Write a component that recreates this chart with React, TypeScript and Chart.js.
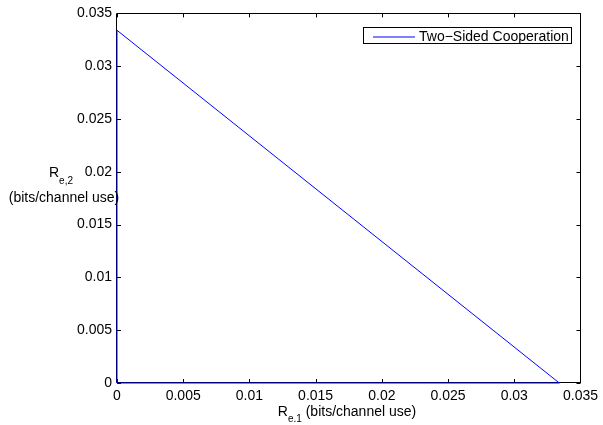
import React, { useEffect, useRef } from "react";
import { Chart, registerables } from "chart.js";

Chart.register(...registerables);

const seriesLabel = "Two\u2212Sided Cooperation";
const r1Values = [0, 0, 0.0334, 0];
const r2Values = [0, 0.0334, 0, 0];
const xTickLabels = ["0", "0.005", "0.01", "0.015", "0.02", "0.025", "0.03", "0.035"];
const yTickLabels = ["0", "0.005", "0.01", "0.015", "0.02", "0.025", "0.03", "0.035"];

const FONT = "Liberation Sans, Arial, Helvetica, sans-serif";
const LINE_COLOR = "#0000ff";

const framePlugin = {
  id: "matlabFrame",
  beforeDatasetsDraw(chart: any) {
    const { ctx, chartArea } = chart;
    const { left, right, top, bottom } = chartArea;
    ctx.save();
    ctx.strokeStyle = "#000";
    ctx.lineWidth = 1;
    ctx.beginPath();
    ctx.rect(Math.round(left) - 0.5, Math.round(top) + 0.5, Math.round(right - left) + 1, Math.round(bottom - top) - 1);
    ctx.stroke();
    const tl = 4;
    const xs = chart.scales.x;
    const ys = chart.scales.y;
    ctx.beginPath();
    xs.ticks.forEach((t: any, i: number) => {
      const px = Math.round(xs.getPixelForTick(i)) + 0.5;
      ctx.moveTo(px, bottom);
      ctx.lineTo(px, bottom - tl);
      ctx.moveTo(px, top);
      ctx.lineTo(px, top + tl);
    });
    ys.ticks.forEach((t: any, i: number) => {
      const py = Math.round(ys.getPixelForTick(i)) + 0.5;
      ctx.moveTo(left, py);
      ctx.lineTo(left + tl, py);
      ctx.moveTo(right, py);
      ctx.lineTo(right - tl, py);
    });
    ctx.stroke();
    ctx.restore();
  },
  afterDraw(chart: any) {
    const { ctx } = chart;
    ctx.save();
    ctx.fillStyle = "#000";
    ctx.textBaseline = "alphabetic";
    ctx.textAlign = "left";
    const big = `14px ${FONT}`;
    const small = `10px ${FONT}`;

    // Y title
    ctx.font = big;
    ctx.fillText("R", 49, 177);
    const rw = ctx.measureText("R").width;
    ctx.font = small;
    ctx.fillText("e,2", 49 + rw, 184);
    ctx.font = big;
    ctx.textAlign = "center";
    ctx.fillText("(bits/channel use)", 64, 202);

    // X title
    ctx.textAlign = "left";
    ctx.font = big;
    const wR = ctx.measureText("R").width;
    ctx.font = small;
    const wSub = ctx.measureText("e.1").width;
    ctx.font = big;
    const wRest = ctx.measureText(" (bits/channel use)").width;
    const total = wR + wSub + wRest;
    const x0 = 347 - total / 2;
    ctx.fillText("R", x0, 416);
    ctx.font = small;
    ctx.fillText("e.1", x0 + wR, 422);
    ctx.font = big;
    ctx.fillText(" (bits/channel use)", x0 + wR + wSub, 416);

    // Legend
    ctx.strokeStyle = "#000";
    ctx.lineWidth = 1;
    ctx.fillStyle = "#fff";
    ctx.fillRect(363.5, 27.5, 208, 16);
    ctx.strokeRect(363.5, 27.5, 208, 16);
    ctx.strokeStyle = LINE_COLOR;
    ctx.beginPath();
    ctx.moveTo(373, 37);
    ctx.lineTo(415, 37);
    ctx.stroke();
    ctx.fillStyle = "#000";
    ctx.font = big;
    ctx.fillText(chart.data.datasets[0].label, 419, 41);
    ctx.restore();
  },
};

export default function App() {
  const ref = useRef<HTMLCanvasElement>(null);
  useEffect(() => {
    if (!ref.current) return;
    const chart = new Chart(ref.current, {
      type: "scatter",
      data: {
        datasets: [
          {
            label: seriesLabel,
            data: r1Values.map((v, i) => ({ x: v, y: r2Values[i] })),
            showLine: true,
            borderColor: LINE_COLOR,
            borderWidth: 1,
            pointRadius: 0,
            fill: false,
            clip: false as any,
          },
        ],
      },
      options: {
        animation: false,
        responsive: false,
        maintainAspectRatio: false,
        layout: { padding: { left: 0, top: 13, right: 17, bottom: 0 } },
        plugins: {
          legend: { display: false },
          tooltip: { enabled: false },
          title: { display: false },
        },
        scales: {
          x: {
            type: "linear",
            min: 0,
            max: 0.035,
            afterFit: (s: any) => {
              s.height = 42;
            },
            afterBuildTicks: (s: any) => {
              s.ticks = xTickLabels.map((l) => ({ value: parseFloat(l) }));
            },
            ticks: {
              callback: (_v: any, i: number) => xTickLabels[i],
              color: "#000",
              font: { family: FONT, size: 14 },
              padding: 5,
              maxRotation: 0,
              autoSkip: false,
            },
            grid: { display: false, drawTicks: false },
            border: { display: false },
          },
          y: {
            type: "linear",
            min: 0,
            max: 0.035,
            afterFit: (s: any) => {
              s.width = 117;
            },
            afterBuildTicks: (s: any) => {
              s.ticks = yTickLabels.map((l) => ({ value: parseFloat(l) }));
            },
            ticks: {
              callback: (_v: any, i: number) => yTickLabels[i],
              color: "#000",
              font: { family: FONT, size: 14 },
              padding: 5,
              autoSkip: false,
            },
            grid: { display: false, drawTicks: false },
            border: { display: false },
          },
        },
      },
      plugins: [framePlugin],
    });
    return () => chart.destroy();
  }, []);
  return (
    <div style={{ position: "fixed", left: 0, top: 0, width: 603, height: 425, background: "#fff" }}>
      <canvas ref={ref} width={603} height={425} style={{ width: 603, height: 425 }} />
    </div>
  );
}
